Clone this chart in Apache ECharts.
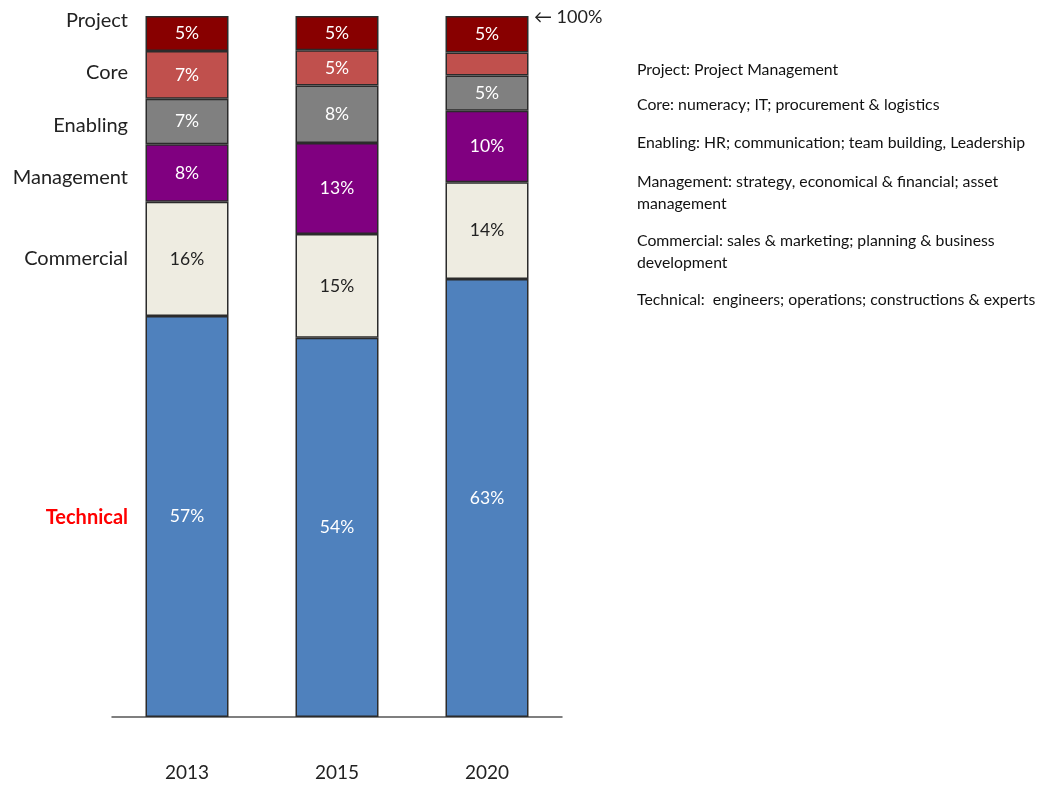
<!DOCTYPE html>
<html>
<head>
<meta charset="utf-8">
<script src="https://cdn.jsdelivr.net/npm/echarts@6/dist/echarts.min.js"></script>
<style>html,body{margin:0;padding:0;background:#fff;}#c{width:1044px;height:785px;}</style>
</head>
<body>
<div id="c"></div>
<script>
// ---- data ----
const years = ['2013', '2015', '2020'];
const seriesNames = ['Technical', 'Commercial', 'Management', 'Enabling', 'Core', 'Project'];
const technical  = [57.2, 54.1, 62.5];
const commercial = [16.3, 14.8, 13.8];
const management = [8.2, 13.0, 10.2];
const enabling   = [6.5, 8.2, 5.0];
const core       = [6.8, 5.0, 3.3];
const project    = [5.0, 4.9, 5.2];
// printed labels on the segments
const technicalLabels  = ['57%', '54%', '63%'];
const commercialLabels = ['16%', '15%', '14%'];
const managementLabels = ['8%', '13%', '10%'];
const enablingLabels   = ['7%', '8%', '5%'];
const coreLabels       = ['7%', '5%', ''];
const projectLabels    = ['5%', '5%', '5%'];
const descriptions = [
  'Project: Project Management',
  'Core: numeracy; IT; procurement & logistics',
  'Enabling: HR; communication; team building, Leadership',
  'Management: strategy, economical & financial; asset\nmanagement',
  'Commercial: sales & marketing; planning & business\ndevelopment',
  'Technical:  engineers; operations; constructions & experts'
];
const topMarker = '100%';

// ---- styles ----
const FONT = 'Lato, "Open Sans", sans-serif';
const colors = ['#4F81BD', '#EEECE1', '#800080', '#808080', '#C0504D', '#880000'];
const labelColors = ['#ffffff', '#222222', '#ffffff', '#ffffff', '#ffffff', '#ffffff'];
const values = [technical, commercial, management, enabling, core, project];
const labels = [technicalLabels, commercialLabels, managementLabels, enablingLabels, coreLabels, projectLabels];

const chart = echarts.init(document.getElementById('c'), null, {renderer: 'canvas'});

const series = seriesNames.map((name, i) => ({
  name: name,
  type: 'bar',
  stack: 'total',
  barWidth: 83,
  data: values[i],
  itemStyle: {color: colors[i], borderColor: '#2b2b2b', borderWidth: 1.5},
  label: {
    show: true,
    position: 'inside',
    fontFamily: FONT,
    fontSize: 17.5,
    color: labelColors[i],
    formatter: p => labels[i][p.dataIndex]
  },
  emphasis: {disabled: true}
}));

chart.setOption({
  animation: false,
  backgroundColor: '#ffffff',
  grid: {left: 112, top: 16, width: 450, height: 701, containLabel: false},
  xAxis: {
    type: 'category',
    data: years,
    axisLine: {lineStyle: {color: '#555', width: 1.5}},
    axisTick: {show: false},
    axisLabel: {fontFamily: FONT, fontSize: 19, color: '#222', margin: 46}
  },
  yAxis: {
    type: 'value', min: 0, max: 100,
    show: false
  },
  series: series
});

// category names on the left, placed at the centre of each 2013 segment
const nameOffsets = [1, 0, 5, 4, -2, -13];
const graphics = [];
let cum = 0;
seriesNames.forEach((name, i) => {
  const v = values[i][0];
  const pt = chart.convertToPixel({gridIndex: 0}, [0, cum + v / 2]);
  cum += v;
  const isTech = name === 'Technical';
  graphics.push({
    type: 'text',
    x: 128, y: pt[1] + nameOffsets[i],
    style: {
      text: name,
      align: 'right', verticalAlign: 'middle',
      fontFamily: FONT, fontSize: 20,
      fontWeight: isTech ? 'bold' : 'normal',
      fill: isTech ? '#FF0000' : '#222'
    }
  });
});
// 100% marker at the top of the last bar
const topPt = chart.convertToPixel({gridIndex: 0}, [years.length - 1, 100]);
graphics.push({
  type: 'text', x: topPt[0] + 47, y: topPt[1] + 1,
  style: {text: '\u2190 ' + topMarker, align: 'left', verticalAlign: 'middle',
          fontFamily: FONT, fontSize: 18, fill: '#222'}
});
// description block on the right
const descY = [70, 105, 143, 182, 241, 300];
descriptions.forEach((d, i) => {
  const multi = d.indexOf('\n') >= 0;
  graphics.push({
    type: 'text', x: 637, y: multi ? descY[i] - 11 : descY[i],
    style: {text: d, align: 'left', verticalAlign: multi ? 'top' : 'middle', lineHeight: 22,
            fontFamily: FONT, fontSize: 15.8, fill: '#111'}
  });
});
chart.setOption({graphic: graphics});
</script>
</body>
</html>
